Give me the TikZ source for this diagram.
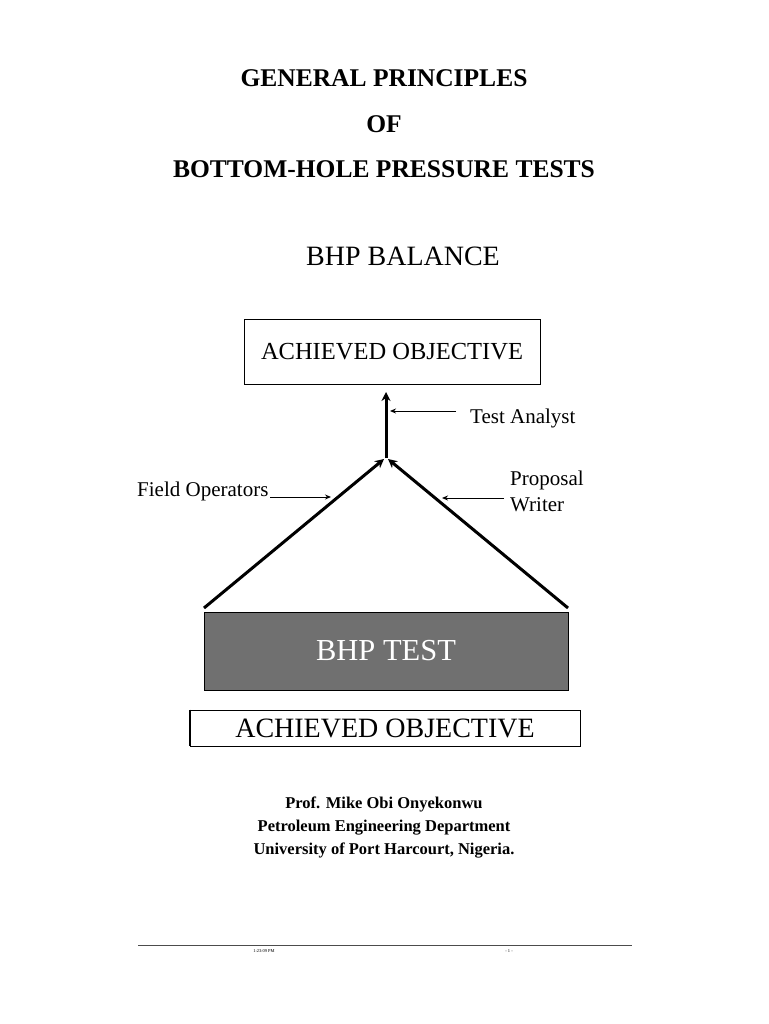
\documentclass[tikz,border=0pt]{standalone}
\usepackage{fontspec}
\setmainfont{Liberation Serif}
\usetikzlibrary{arrows.meta}
\begin{document}
\begin{tikzpicture}[x=1pt,y=-1pt,
  thick arrow/.style={line width=3pt,-{Stealth[length=9pt,width=9pt]}},
  thin arrow/.style={line width=1pt,-{Stealth[length=6pt,width=5pt]}},
  lbl/.style={inner sep=0pt,font=\fontsize{21}{24}\selectfont}]
\useasboundingbox[fill=white] (0,0) rectangle (768,1024);
\node[font=\bfseries\fontsize{25.5}{30}\selectfont] (t1) at (384,78) {GENERAL PRINCIPLES};
\node[font=\bfseries\fontsize{25.5}{30}\selectfont] (t2) at (384,124) {OF};
\node[font=\bfseries\fontsize{25.5}{30}\selectfont] (t3) at (384,169) {BOTTOM-HOLE PRESSURE TESTS};
\node[font=\fontsize{28}{32}\selectfont] (bal) at (403,256) {BHP BALANCE};
\node[draw,line width=0.8pt,minimum width=296pt,minimum height=65pt,font=\fontsize{24.5}{28}\selectfont] (top) at (392,351.5) {ACHIEVED OBJECTIVE};
\node[draw=black,fill=black!56,minimum width=364pt,minimum height=78pt,text=white,font=\fontsize{30.5}{34}\selectfont] (test) at (386,651) {BHP TEST};
\node[draw,line width=0.8pt,minimum width=390pt,minimum height=36pt,font=\fontsize{28}{32}\selectfont] (bot) at (385,728) {ACHIEVED OBJECTIVE};
\draw[line width=2pt] (bot.north west) -- (bot.south west);
\coordinate (apex) at (386,458);
\coordinate (L) at (204,608);
\coordinate (R) at (568,608);
\coordinate (tip) at (386,392);
\draw[thick arrow] (L) -- ([xshift=-2pt,yshift=-1pt]apex);
\draw[thick arrow] (R) -- ([xshift=2pt,yshift=-1pt]apex);
\draw[thick arrow] (apex) -- (tip);
\node[lbl,anchor=west] (ta) at (470,418) {Test Analyst};
\coordinate (ta0) at (456,411);
\draw[thin arrow] (ta0) -- (390,411);
\node[lbl,anchor=west] (fo) at (137,491) {Field Operators};
\coordinate (fo0) at (270,497);
\draw[thin arrow] (fo0) -- (331,497);
\node[lbl,anchor=west,align=left,font=\fontsize{21}{26}\selectfont] (pw) at (510,491) {Proposal\\Writer};
\coordinate (pw0) at (504,498);
\draw[thin arrow] (pw0) -- (442,498);
\node[font=\bfseries\fontsize{16.5}{23}\selectfont,align=center] (auth) at (384,828) {Prof. Mike Obi Onyekonwu\\Petroleum Engineering Department\\University of Port Harcourt, Nigeria.};
\coordinate (f1) at (138,945);
\coordinate (f2) at (632,945);
\draw[line width=1pt,black!70] (f1) -- (f2);
\node[font=\fontsize{4.5}{5}\selectfont] (time) at (264,951) {1:23:09 PM};
\node[font=\fontsize{4.5}{5}\selectfont] (pg) at (509,951) {- 1 -};
\end{tikzpicture}
\end{document}
